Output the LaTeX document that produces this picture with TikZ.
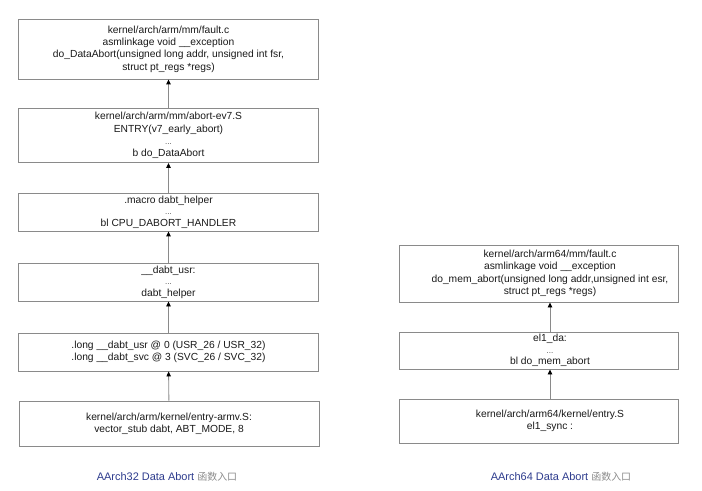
\documentclass[tikz,border=0pt]{standalone}
\usepackage{fontspec}
\setmainfont{Liberation Sans}
\newfontfamily\cjk{Noto Sans CJK SC}
\usetikzlibrary{arrows.meta}
\definecolor{boxline}{HTML}{8A8A8A}
\definecolor{txt}{HTML}{1A1A1A}
\definecolor{capblue}{HTML}{2E3C8E}
\definecolor{capgray}{HTML}{8C8C8C}
\newcommand{\dotsline}{{\fontsize{8}{7}\selectfont\color{black!70}...}}
\begin{document}
\begin{tikzpicture}[x=1bp,y=-1bp,
  box/.style={draw=boxline,line width=0.9bp,rectangle,inner sep=0pt,text=txt,align=center,
    font=\fontsize{10.3}{12.4}\selectfont},
  txtnode/.style={text=txt,align=center,inner sep=0pt,font=\fontsize{10.3}{12.4}\selectfont},
  conn/.style={draw=boxline,line width=0.9bp,-{Triangle[length=5bp,width=4.5bp,color=black]}},
  captext/.style={inner sep=0pt,font=\fontsize{11}{13}\selectfont}]
\useasboundingbox (0,0) rectangle (702,491);
\fill[white] (0,0) rectangle (702,491);
% left column
\node[box,minimum width=300bp,minimum height=60bp] (a1) at (168.5,49)
  {kernel/arch/arm/mm/fault.c\\asmlinkage void \_\_exception\\do\_DataAbort(unsigned long addr, unsigned int fsr,\\struct pt\_regs *regs)};
\node[box,minimum width=300bp,minimum height=54bp] (a2) at (168.5,135.5)
  {kernel/arch/arm/mm/abort-ev7.S\\ENTRY(v7\_early\_abort)\\\dotsline\\b do\_DataAbort};
\node[box,minimum width=300bp,minimum height=38bp] (a3) at (168.5,212)
  {.macro dabt\_helper\\[-1bp]\dotsline\\[-1bp]bl CPU\_DABORT\_HANDLER};
\node[box,minimum width=300bp,minimum height=38bp] (a4) at (168.5,282)
  {\_\_dabt\_usr:\\[-1bp]\dotsline\\[-1bp]dabt\_helper};
\node[box,minimum width=300bp,minimum height=38bp] (a5) at (168.5,352)
  {.long \_\_dabt\_usr @ 0 (USR\_26 / USR\_32)\\.long \_\_dabt\_svc @ 3 (SVC\_26 / SVC\_32)};
\node[box,minimum width=300bp,minimum height=45bp] (a6) at (169,423.5)
  {kernel/arch/arm/kernel/entry-armv.S:\\vector\_stub dabt, ABT\_MODE, 8};
\draw[conn] (a2) -- (a1);
\draw[conn] (a3) -- (a2);
\draw[conn] (a4) -- (a3);
\draw[conn] (a5) -- (a4);
\draw[conn] (a6) -- (a5);
\node[captext] (c1) at (167,477) {\textcolor{capblue}{AArch32 Data Abort} \textcolor{capgray}{\cjk\fontsize{10}{13}\selectfont 函数入口}};
% right column
\node[box,minimum width=279bp,minimum height=57bp] (b1) at (538.5,273.5) {};
\node[txtnode] (t1) at (550,273.5)
  {kernel/arch/arm64/mm/fault.c\\asmlinkage void \_\_exception\\do\_mem\_abort(unsigned long addr,unsigned int esr,\\struct pt\_regs *regs)};
\node[box,minimum width=279bp,minimum height=37bp] (b2) at (538.5,350.5) {};
\node[txtnode] (t2) at (550,350.5)
  {el1\_da:\\[-1bp]\dotsline\\[-1bp]bl do\_mem\_abort};
\node[box,minimum width=279bp,minimum height=44bp] (b3) at (538.5,421) {};
\node[txtnode] (t3) at (550,421)
  {kernel/arch/arm64/kernel/entry.S\\el1\_sync :};
\draw[conn] (b2.north -| t2) -- (b1.south -| t1);
\draw[conn] (b3.north -| t3) -- (b2.south -| t2);
\node[captext] (c2) at (561,477) {\textcolor{capblue}{AArch64 Data Abort} \textcolor{capgray}{\cjk\fontsize{10}{13}\selectfont 函数入口}};
\end{tikzpicture}
\end{document}
